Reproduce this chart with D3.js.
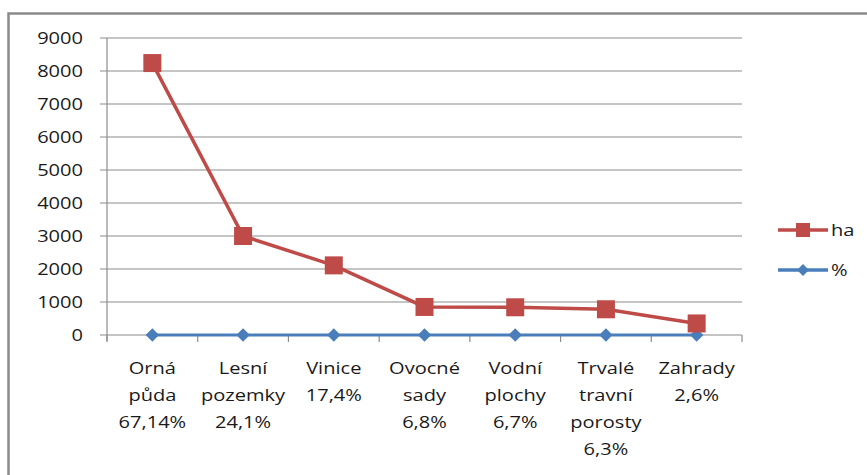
<!DOCTYPE html>
<html><head><meta charset="utf-8">
<script src="https://cdn.jsdelivr.net/npm/d3@7"></script>
<style>
html,body{margin:0;padding:0;background:#fff;}
svg{display:block;}
text{font-family:"Open Sans","Liberation Sans",sans-serif;fill:#1a1a1a;}
</style></head><body>
<svg id="c" width="867" height="475"></svg>
<script>
const categories = [
  ["Orná","půda","67,14%"],
  ["Lesní","pozemky","24,1%"],
  ["Vinice","17,4%"],
  ["Ovocné","sady","6,8%"],
  ["Vodní","plochy","6,7%"],
  ["Trvalé","travní","porosty","6,3%"],
  ["Zahrady","2,6%"]
];
const haValues = [8240, 3000, 2110, 850, 840, 780, 350];
const pctValues = [0.6714, 0.241, 0.174, 0.068, 0.067, 0.063, 0.026];
const yTicks = [0,1000,2000,3000,4000,5000,6000,7000,8000,9000];
const seriesNames = ["ha","%"];

const svg = d3.select("#c");
const L = 107, R = 742, T = 38, B = 335;
const sx = 1.18; // horizontal stretch of text as in the reference

// outer border
svg.append("path").attr("d","M8.5,475 V13.5 H867").attr("fill","none").attr("stroke","#8a8a8a").attr("stroke-width",2.5);

const x = d3.scaleBand().domain(d3.range(categories.length)).range([L,R]).padding(0);
const y = d3.scaleLinear().domain([0,9000]).range([B,T]);

// gridlines
svg.append("g").selectAll("line").data(yTicks).join("line")
  .attr("x1",L-7).attr("x2",R).attr("y1",d=>y(d)).attr("y2",d=>y(d))
  .attr("stroke","#8c8c8c").attr("stroke-width",1.2);

// y axis line
svg.append("line").attr("x1",L).attr("x2",L).attr("y1",T).attr("y2",B+6).attr("stroke","#8c8c8c").attr("stroke-width",1.2);
// x tick marks
svg.append("g").selectAll("line").data(d3.range(categories.length+1)).join("line")
  .attr("x1",d=>L+d*x.bandwidth()).attr("x2",d=>L+d*x.bandwidth())
  .attr("y1",B).attr("y2",B+7).attr("stroke","#8c8c8c").attr("stroke-width",1.2);

// y labels
svg.append("g").selectAll("text").data(yTicks).join("text")
  .attr("transform",d=>`translate(${L-24},${y(d)+6}) scale(${sx},1)`)
  .attr("text-anchor","end").attr("font-size",17).text(d=>d);

// x labels
const xl = svg.append("g").selectAll("text").data(categories).join("text")
  .attr("transform",(d,i)=>`translate(${x(i)+x.bandwidth()/2},${374}) scale(${sx},1)`)
  .attr("text-anchor","middle").attr("font-size",17);
xl.selectAll("tspan").data(d=>d).join("tspan").attr("x",0).attr("dy",(d,i)=>i===0?0:27).text(d=>d);

const cx = i => x(i)+x.bandwidth()/2;
const red = "#BE4B48", blue = "#4A7EBB";

// % series
const line = d3.line().x((d,i)=>cx(i)).y(d=>y(d));
svg.append("path").attr("d",line(pctValues)).attr("fill","none").attr("stroke",blue).attr("stroke-width",3.2);
const diamond = d3.symbol().type(d3.symbolSquare).size(90);
svg.append("g").selectAll("path").data(pctValues).join("path")
  .attr("d",diamond).attr("transform",(d,i)=>`translate(${cx(i)},${y(d)}) rotate(45)`).attr("fill",blue);

// ha series
svg.append("path").attr("d",line(haValues)).attr("fill","none").attr("stroke",red).attr("stroke-width",3.5);
svg.append("g").selectAll("rect").data(haValues).join("rect")
  .attr("x",(d,i)=>cx(i)-9).attr("y",d=>y(d)-9).attr("width",18).attr("height",18).attr("fill",red);

// legend
const lg = svg.append("g");
const legY = [230, 270];
const colors = [red, blue];
seriesNames.forEach((n,i)=>{
  lg.append("line").attr("x1",778).attr("x2",828).attr("y1",legY[i]).attr("y2",legY[i]).attr("stroke",colors[i]).attr("stroke-width",3.5);
  if(i===0) lg.append("rect").attr("x",803-7).attr("y",legY[i]-7).attr("width",14).attr("height",14).attr("fill",red);
  else lg.append("path").attr("d",d3.symbol().type(d3.symbolSquare).size(70)).attr("transform",`translate(803,${legY[i]}) rotate(45)`).attr("fill",blue);
  lg.append("text").attr("transform",`translate(831,${legY[i]+6}) scale(${sx},1)`).attr("font-size",17).text(n);
});
</script></body></html>
